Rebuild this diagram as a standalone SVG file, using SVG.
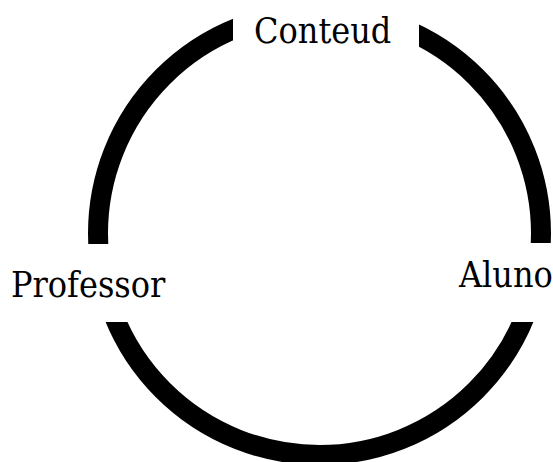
<svg xmlns="http://www.w3.org/2000/svg" width="553" height="462" viewBox="0 0 553 462">
  <style>
    .lbl { font-family: "DejaVu Serif", "Liberation Serif", serif; font-stretch: condensed; font-size: 35.6px; fill: #000; }
    .ring { fill: none; stroke: #000; stroke-width: 20; }
  </style>
  <defs>
    <mask id="gaps" maskUnits="userSpaceOnUse" x="0" y="0" width="553" height="462">
      <rect x="0" y="0" width="553" height="462" fill="#fff"/>
      <rect x="233" y="0" width="186" height="70" fill="#000"/>
      <rect x="0" y="244" width="200" height="78" fill="#000"/>
      <rect x="420" y="243" width="133" height="79" fill="#000"/>
    </mask>
  </defs>
  <rect width="553" height="462" fill="#fff"/>
  <g id="connectors">
    <circle class="ring" cx="319.5" cy="233.5" r="221.5" mask="url(#gaps)"/>
  </g>
  <g id="node-conteud">
    <text class="lbl" x="254" y="43">Conteud</text>
  </g>
  <g id="node-professor">
    <text class="lbl" x="11" y="297">Professor</text>
  </g>
  <g id="node-aluno">
    <text class="lbl" x="459" y="287">Aluno</text>
  </g>
</svg>
